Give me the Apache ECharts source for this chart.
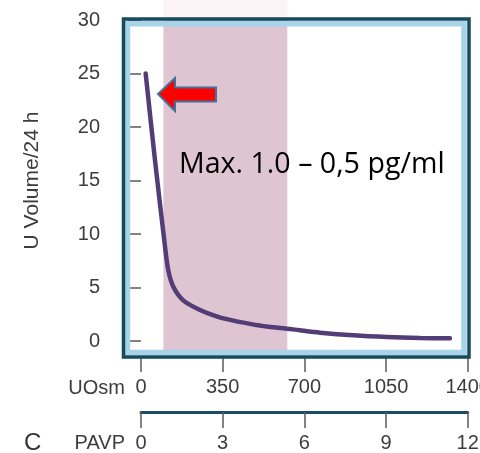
<!DOCTYPE html>
<html>
<head>
<meta charset="utf-8">
<script src="https://cdn.jsdelivr.net/npm/echarts@6/dist/echarts.min.js"></script>
<style>
  html, body { margin: 0; padding: 0; background: #ffffff; }
  #chart { width: 480px; height: 453px; }
</style>
</head>
<body>
<div id="chart"></div>
<script>
// Urine volume per 24 h against urine osmolality (UOsm) / plasma AVP (PAVP)
const uosm = [20, 60, 103, 117, 138, 181, 253, 324, 396, 467, 539, 610, 681, 767, 910, 1053, 1196, 1324];
const uVolume = [25.0, 16.9, 8.8, 6.6, 5.1, 3.8, 2.9, 2.3, 1.9, 1.6, 1.35, 1.2, 1.0, 0.78, 0.53, 0.37, 0.28, 0.25];

// Shaded UOsm range and its vertical reach (in U volume units)
const bandRange = [96, 627];
const bandVolume = [-1.0, 30];
const bandHaze = [30, 32];

// Axis scales
const uosmTicks = { min: 0, max: 1400, interval: 350 };
const pavpTicks = { min: 0, max: 12, interval: 3 };
const volumeTicks = { min: 0, max: 30, interval: 5 };

const annotationText = 'Max. 1.0 \u2013 0,5 pg/ml';

const tickColor = '#5a5a5a';
const labelColor = '#3d3d3d';
const labelFont = '"Liberation Sans", Arial, sans-serif';
const plain = v => String(v);

const chart = echarts.init(document.getElementById('chart'), null, { renderer: 'canvas' });

// draws one shaded rectangle spanning an x range and a y range, unclipped
function bandItem(xr, yr, color) {
  return function (params, api) {
    const p0 = api.coord([xr[0], yr[1]]);
    const p1 = api.coord([xr[1], yr[0]]);
    return {
      type: 'rect',
      shape: { x: p0[0], y: p0[1], width: p1[0] - p0[0], height: p1[1] - p0[1] },
      style: { fill: color }
    };
  };
}

chart.setOption({
  animation: false,
  backgroundColor: '#ffffff',
  grid: {
    left: 141, right: 12.3, top: 20, bottom: 112,
    containLabel: false,
    outerBoundsMode: 'none'
  },
  xAxis: [
    {
      type: 'value',
      min: uosmTicks.min, max: uosmTicks.max, interval: uosmTicks.interval,
      position: 'bottom',
      offset: 17,
      name: 'UOsm',
      nameLocation: 'start',
      nameGap: 16,
      nameTextStyle: {
        fontFamily: labelFont, fontSize: 20, color: labelColor,
        verticalAlign: 'top', padding: [20, 0, 0, 0]
      },
      axisLine: { show: false, onZero: false },
      axisTick: { show: true, length: 14, lineStyle: { color: tickColor, width: 1.5 } },
      axisLabel: { margin: 19, fontFamily: labelFont, fontSize: 20, color: labelColor, formatter: plain },
      splitLine: { show: false }
    },
    {
      type: 'value',
      min: pavpTicks.min, max: pavpTicks.max, interval: pavpTicks.interval,
      position: 'bottom',
      offset: 71,
      name: 'PAVP',
      nameLocation: 'start',
      nameGap: 16,
      nameTextStyle: {
        fontFamily: labelFont, fontSize: 20, color: labelColor,
        verticalAlign: 'top', padding: [21, 0, 0, 0]
      },
      axisLine: { show: true, onZero: false, lineStyle: { color: '#1b4d62', width: 3 } },
      axisTick: { show: true, length: 16, lineStyle: { color: tickColor, width: 1.5 } },
      axisLabel: { margin: 21, fontFamily: labelFont, fontSize: 20, color: labelColor, formatter: plain },
      splitLine: { show: false }
    }
  ],
  yAxis: {
    type: 'value',
    min: volumeTicks.min, max: volumeTicks.max, interval: volumeTicks.interval,
    offset: 18,
    name: 'U Volume/24 h',
    nameLocation: 'middle',
    nameGap: 80,
    nameRotate: 90,
    nameTextStyle: { fontFamily: labelFont, fontSize: 21, color: labelColor },
    axisLine: { show: false },
    axisTick: { show: true, length: 13, lineStyle: { color: tickColor, width: 1.5 } },
    axisLabel: { margin: 23, fontFamily: labelFont, fontSize: 20, color: labelColor, formatter: plain },
    splitLine: { show: false }
  },
  graphic: [
    // light inner border of the plot frame
    {
      type: 'rect', z: 10, silent: true,
      shape: { x: 127.5, y: 23.7, width: 336.5, height: 328.8 },
      style: { fill: null, stroke: '#a7d4e8', lineWidth: 5.5 }
    },
    // dark outer border of the plot frame
    {
      type: 'rect', z: 11, silent: true,
      shape: { x: 123.5, y: 19, width: 345.5, height: 338 },
      style: { fill: null, stroke: '#164b5f', lineWidth: 3.5 }
    },
    // panel letter
    {
      type: 'text', z: 20, silent: true,
      style: {
        x: 24, y: 443, text: 'C', fill: '#333333',
        font: '24px "Liberation Sans", Arial, sans-serif',
        textVerticalAlign: 'middle'
      }
    },
    // block arrow pointing at the curve's start
    {
      type: 'polygon', z: 20, silent: true,
      shape: {
        points: [[158, 94], [175, 78], [175, 87.5], [216, 87.5], [216, 101.5], [175, 101.5], [175, 111]]
      },
      style: { fill: '#ff0000', stroke: '#41719c', lineWidth: 2 }
    },
    {
      type: 'text', z: 20, silent: true,
      style: {
        x: 179, y: 150, text: annotationText, fill: '#000000',
        font: '28.6px "Open Sans", sans-serif',
        textVerticalAlign: 'alphabetic'
      }
    }
  ],
  series: [
    {
      // faint haze of the shaded range above the frame
      type: 'custom',
      z: 1,
      clip: false,
      silent: true,
      data: [0],
      renderItem: bandItem(bandRange, bandHaze, '#fcf3f6')
    },
    {
      // shaded range, passing under the frame
      type: 'custom',
      z: 1,
      clip: false,
      silent: true,
      data: [0],
      renderItem: bandItem(bandRange, bandVolume, '#dec5d1')
    },
    {
      type: 'line',
      z: 5,
      clip: false,
      data: uosm.map((x, i) => [x, uVolume[i]]),
      showSymbol: false,
      symbol: 'none',
      smooth: 0.3,
      lineStyle: { color: '#533d77', width: 4.5, cap: 'round' }
    }
  ]
});
</script>
</body>
</html>
